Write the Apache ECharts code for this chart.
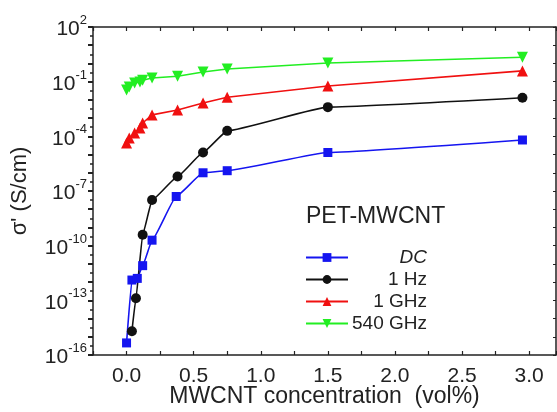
<!DOCTYPE html>
<html>
<head>
<meta charset="utf-8">
<script src="https://cdn.jsdelivr.net/npm/echarts@6/dist/echarts.min.js"></script>
<style>
  html, body { margin: 0; padding: 0; background: #fff; }
  #chart { width: 557px; height: 412px; }
</style>
</head>
<body>
<div id="chart"></div>
<script>
// conductivity vs MWCNT content (S/cm)
const dcX = [0, 0.04, 0.08, 0.12, 0.19, 0.37, 0.57, 0.75, 1.5, 2.95];
const dcY = [4.6e-16, 1.3e-12, 1.6e-12, 8e-12, 2e-10, 5e-8, 1e-6, 1.3e-6, 1.3e-5, 6.3e-5];

const hz1X = [0.04, 0.07, 0.12, 0.19, 0.38, 0.57, 0.75, 1.5, 2.95];
const hz1Y = [2e-15, 1.3e-13, 4e-10, 3.2e-8, 6.3e-7, 1.3e-5, 2e-4, 4e-3, 1.3e-2];

const ghzX = [0, 0.02, 0.06, 0.1, 0.12, 0.19, 0.38, 0.57, 0.75, 1.5, 2.95];
const ghzY = [4.3e-5, 8e-5, 1.5e-4, 2.9e-4, 5.4e-4, 1.5e-3, 2.8e-3, 6.8e-3, 1.4e-2, 5.8e-2, 0.39];

const thzX = [0, 0.02, 0.06, 0.1, 0.12, 0.19, 0.38, 0.57, 0.75, 1.5, 2.95];
const thzY = [0.035, 0.051, 0.085, 0.095, 0.12, 0.16, 0.2, 0.34, 0.5, 1.05, 2.2];

const seriesNames = ["DC", "1 Hz", "1 GHz", "540 GHz"];
const yTickExps = [-16, -13, -10, -7, -4, -1, 2];

const font = "Liberation Sans";
const ink = "#222";

function pairs(xs, ys) {
  // plot on log10 of sigma so the value axis acts as the log scale
  return xs.map((x, i) => [x, Math.log10(ys[i])]);
}

function makeSeries(name, xs, ys, color, symbol, size, smooth) {
  return {
    name: name,
    type: "line",
    data: pairs(xs, ys),
    symbol: symbol,
    symbolSize: size,
    smooth: smooth,
    smoothMonotone: "x",
    lineStyle: { color: color, width: 1.6 },
    itemStyle: { color: color },
    z: 3
  };
}

let chart = echarts.init(document.getElementById("chart"), null, { renderer: "canvas" });

let frameLine = { show: true, onZero: false, lineStyle: { color: ink, width: 1.5 } };

let option = {
  animation: false,
  backgroundColor: "#fff",
  textStyle: { fontFamily: font },
  title: {
    text: "PET-MWCNT",
    left: 301,
    top: 200,
    textStyle: { fontFamily: font, fontSize: 23, fontWeight: "normal", color: ink }
  },
  legend: {
    data: seriesNames,
    orient: "vertical",
    left: 300,
    top: 243,
    itemWidth: 42,
    itemHeight: 11,
    itemGap: 3,
    formatter: name => name == "DC" ? "{i|DC}" : "{n|" + name + "}",
    textStyle: {
      fontFamily: font,
      color: ink,
      rich: {
        i: { fontSize: 19, fontStyle: "italic", width: 74, lineHeight: 19, align: "right", fontFamily: font, color: ink },
        n: { fontSize: 19, width: 74, lineHeight: 19, align: "right", fontFamily: font, color: ink }
      }
    }
  },
  grid: { left: 93, right: 1, top: 27, bottom: 57, containLabel: false, outerBoundsMode: "none" },
  xAxis: [
    {
      type: "value",
      min: -0.25,
      max: 3.2,
      interval: 0.25,
      name: "MWCNT concentration  (vol%)",
      nameLocation: "middle",
      nameGap: 30,
      nameMoveOverlap: false,
      nameTextStyle: { fontFamily: font, fontSize: 23, color: ink },
      axisLine: frameLine,
      axisTick: { show: true, inside: true, length: 4, lineStyle: { color: ink, width: 1.2 } },
      axisLabel: {
        fontFamily: font,
        fontSize: 21,
        color: ink,
        margin: 11,
        formatter: v => (v >= 0 && Math.abs(v * 2 - Math.round(v * 2)) < 1e-6) ? v.toFixed(1) : ""
      },
      splitLine: { show: false }
    },
    {
      type: "value",
      position: "top",
      min: -0.25,
      max: 3.2,
      interval: 0.25,
      axisLine: frameLine,
      axisTick: { show: true, inside: true, length: 4, lineStyle: { color: ink, width: 1.2 } },
      axisLabel: { show: false },
      splitLine: { show: false }
    }
  ],
  yAxis: [
    {
      type: "value",
      min: -16,
      max: 2,
      interval: 1,
      name: "σ' (S/cm)",
      nameLocation: "middle",
      nameGap: 62,
      nameRotate: 90,
      nameMoveOverlap: false,
      nameTextStyle: { fontFamily: font, fontSize: 22, color: ink },
      axisLine: frameLine,
      axisTick: { show: true, inside: false, length: 5, lineStyle: { color: ink, width: 2 } },
      minorTick: { show: true, splitNumber: 2, length: 3, lineStyle: { color: ink, width: 1.5 } },
      axisLabel: {
        margin: 6,
        formatter: v => yTickExps.includes(v) ? "{b|10}{s|" + v + "}" : "",
        rich: {
          b: { fontFamily: font, fontSize: 21, color: ink, lineHeight: 26, verticalAlign: "bottom" },
          s: { fontFamily: font, fontSize: 13, color: ink, lineHeight: 14, verticalAlign: "top", padding: [0, 0, 12, 0] }
        }
      },
      splitLine: { show: false }
    },
    {
      type: "value",
      position: "right",
      min: -16,
      max: 2,
      interval: 1,
      axisLine: frameLine,
      axisTick: { show: true, inside: true, length: 3, lineStyle: { color: ink, width: 1 } },
      axisLabel: { show: false },
      splitLine: { show: false }
    }
  ],
  series: [
    makeSeries("DC", dcX, dcY, "#1515f0", "rect", 9, 0.12),
    makeSeries("1 Hz", hz1X, hz1Y, "#111111", "circle", 10, 0.12),
    makeSeries("1 GHz", ghzX, ghzY, "#f01010", "triangle", 11, false),
    makeSeries("540 GHz", thzX, thzY, "#22ee22", "path://M0,0 L10,0 L5,9 Z", 11, false)
  ]
};

chart.setOption(option);
</script>
</body>
</html>
